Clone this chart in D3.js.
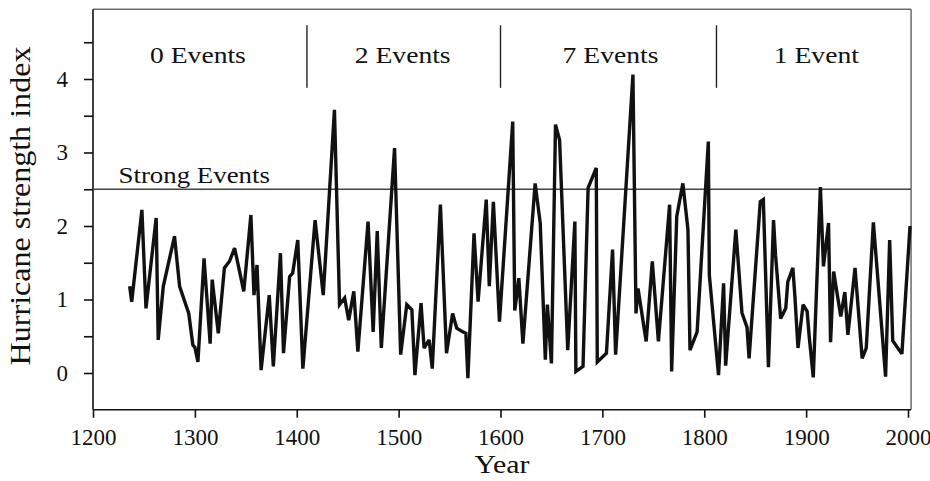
<!DOCTYPE html>
<html>
<head>
<meta charset="utf-8">
<script src="https://cdn.jsdelivr.net/npm/d3@7"></script>
<style>
    body { margin: 0; background: #ffffff; }
    svg text { font-family: "Liberation Serif", "Times New Roman", serif; fill: #111; }
</style>
</head>
<body>
<svg id="chart" width="930" height="481"></svg>
<script>
// hurricane strength index
var years = [1236,1238,1248,1252,1262,1264,1269,1280,1285,1294,1298,1300,1303,1309,1315,1317,1323,1329,1334,1339,
             1348,1355,1358,1361,1365,1373,1377,1384,1387,1393,1396,1401,1406,1418,1426,1437,1442,1447,1451,1456,
             1460,1470,1475,1479,1483,1496,1502,1508,1513,1516,1522,1525,1530,1533,1541,1547,1553,1557,1563,1566,
             1568,1574,1578,1586,1589,1593,1599,1612,1614,1618,1622,1634,1639,1644,1646,1650,1654,1658,1666,1673,
             1674,1681,1686,1694,1695,1704,1710,1713,1730,1733,1735,1743,1749,1755,1766,1768,1773,1779,1784,1786,
             1793,1804,1805,1814,1819,1821,1831,1837,1842,1844,1855,1858,1863,1868,1870,1875,1880,1882,1887,1889,
             1892,1897,1901,1903,1907,1914,1917,1922,1924,1927,1934,1938,1941,1948,1955,1959,1966,1978,1982,1985,
             1994,2002];
var strength = [1.18,0.97,2.22,0.88,2.11,0.45,1.18,1.86,1.18,0.81,0.38,0.35,0.15,1.56,0.40,1.27,0.54,1.43,1.52,1.70,
                1.11,2.15,1.06,1.47,0.04,1.06,0.09,1.63,0.27,1.31,1.36,1.81,0.06,2.08,1.06,3.58,0.93,1.02,0.72,1.11,
                0.29,2.06,0.56,1.93,0.34,3.06,0.25,0.93,0.86,-0.03,0.95,0.34,0.45,0.06,2.29,0.27,0.81,0.61,0.56,0.54,
                -0.07,1.90,0.97,2.36,1.18,2.33,0.70,3.42,0.85,1.29,0.40,2.58,2.04,0.18,0.93,0.13,3.38,3.17,0.31,2.06,
                0.02,0.09,2.52,2.79,0.15,0.27,1.68,0.25,4.06,0.81,1.15,0.43,1.52,0.43,2.29,0.02,2.13,2.58,1.95,0.31,
                0.56,3.15,1.33,-0.03,1.22,0.10,1.95,0.82,0.62,0.20,2.33,2.36,0.08,2.08,1.60,0.74,0.88,1.24,1.43,1.04,
                0.34,0.93,0.84,0.50,-0.06,2.53,1.45,2.04,0.42,1.38,0.77,1.10,0.52,1.43,0.20,0.34,2.05,-0.05,1.81,0.44,
                0.26,2.00];

var xTicks = [1200,1300,1400,1500,1600,1700,1800,1900,2000];
var yTicks = [0,1,2,3,4];
var yMinorTicks = [0.5,1.5,2.5,3.5,4.5];

var strongLevel = 2.5;
var strongLabel = "Strong Events";

// periods split by vertical markers
var dividerYears = [1410,1600,1812];
var periodLabels = ["0 Events","2 Events","7 Events","1 Event"];
var periodLabelYears = [1303,1504,1708,1910];

var svg = d3.select("#chart");

var xScale = d3.scaleLinear()
                .domain([1200, 2000])
                .range([93, 908]);

var yScale = d3.scaleLinear()
                .domain([0, 4])
                .range([373, 79]);

var xMax = 2003, yMin = -0.5, yMax = 4.95;

// the scanned figure is a little wider than tall, so text is stretched sideways
function wideText(sel, x, y, sx) {
    return sel.attr("transform", "translate(" + x + "," + y + ") scale(" + sx + ",1)");
}

// frame (top + right are thin)
svg.append("line")
   .attr("x1", xScale(1200)).attr("x2", xScale(xMax))
   .attr("y1", yScale(yMax)).attr("y2", yScale(yMax))
   .attr("stroke", "#222").attr("stroke-width", 1);
svg.append("line")
   .attr("x1", xScale(xMax)).attr("x2", xScale(xMax))
   .attr("y1", yScale(yMax)).attr("y2", yScale(yMin))
   .attr("stroke", "#222").attr("stroke-width", 1);

var xAxis = d3.axisBottom().scale(xScale)
                           .tickValues(xTicks)
                           .tickSize(8)
                           .tickSizeOuter(0)
                           .tickFormat(d3.format("d"));

var yAxis = d3.axisLeft().scale(yScale)
                         .tickValues(yTicks)
                         .tickSize(9)
                         .tickSizeOuter(0)
                         .tickFormat(d3.format("d"));

var yMinor = d3.axisLeft().scale(yScale)
                          .tickValues(yMinorTicks)
                          .tickSize(9)
                          .tickSizeOuter(0)
                          .tickFormat("");

var gx = svg.append("g")
   .attr("class", "axis")
   .attr("transform", "translate(0," + yScale(yMin) + ")")
   .call(xAxis);
gx.select(".domain").attr("d", "M" + xScale(1200) + ",0H" + xScale(xMax));

var gy = svg.append("g")
   .attr("class", "axis")
   .attr("transform", "translate(" + xScale(1200) + ",0)")
   .call(yAxis);
gy.select(".domain").attr("d", "M0," + yScale(yMin) + "V" + yScale(yMax));

svg.append("g")
   .attr("transform", "translate(" + xScale(1200) + ",0)")
   .call(yMinor)
   .select(".domain").remove();

svg.selectAll(".axis .domain, .tick line")
   .attr("stroke", "#111")
   .attr("stroke-width", 1.6);

gx.selectAll("text")
  .attr("dy", "1.05em")
  .style("font-size", "23px");
gy.selectAll("text")
  .attr("x", -25)
  .style("font-size", "23px");

// strong events threshold
svg.append("line")
   .attr("x1", xScale(1200)).attr("x2", xScale(xMax))
   .attr("y1", yScale(strongLevel)).attr("y2", yScale(strongLevel))
   .attr("stroke", "#444").attr("stroke-width", 1.3);

wideText(svg.append("text"), xScale(1225), yScale(strongLevel) - 6, 1.12)
   .style("font-size", "24px")
   .text(strongLabel);

// period dividers and labels
svg.selectAll("line.divider")
   .data(dividerYears)
   .enter()
   .append("line")
   .attr("class", "divider")
   .attr("x1", function(d) { return xScale(d); })
   .attr("x2", function(d) { return xScale(d); })
   .attr("y1", yScale(4.73))
   .attr("y2", yScale(3.88))
   .attr("stroke", "#222")
   .attr("stroke-width", 1.4);

svg.selectAll("text.period")
   .data(periodLabels)
   .enter()
   .append("text")
   .attr("class", "period")
   .attr("transform", function(d, i) {
        return "translate(" + xScale(periodLabelYears[i]) + "," + yScale(4.22) + ") scale(1.15,1)";
   })
   .attr("text-anchor", "middle")
   .style("font-size", "24px")
   .text(function(d) { return d; });

// the series
var line = d3.line()
             .x(function(d, i) { return xScale(years[i]); })
             .y(function(d) { return yScale(d); });

svg.append("path")
   .datum(strength)
   .attr("d", line)
   .attr("fill", "none")
   .attr("stroke", "#111")
   .attr("stroke-width", 3.4)
   .attr("stroke-linejoin", "miter")
   .attr("stroke-miterlimit", 3);

// axis titles
wideText(svg.append("text"), (xScale(1200) + xScale(xMax)) / 2, 473, 1.15)
   .attr("text-anchor", "middle")
   .style("font-size", "26px")
   .text("Year");

svg.append("text")
   .attr("transform", "translate(30,206) rotate(-90) scale(1.07,1)")
   .attr("text-anchor", "middle")
   .style("font-size", "30px")
   .text("Hurricane strength index");
</script>
</body>
</html>
